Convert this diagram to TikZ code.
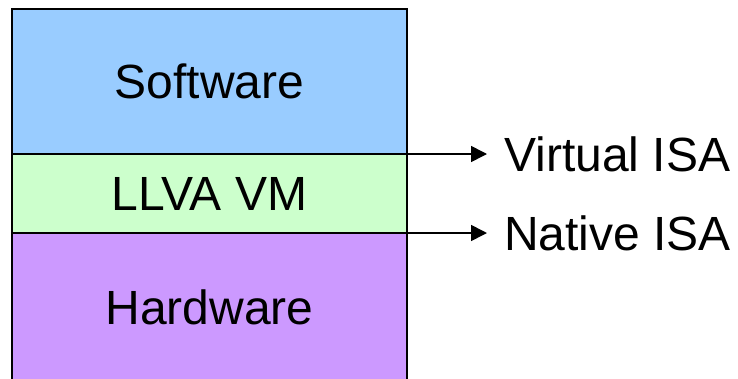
\documentclass[tikz,border=0pt]{standalone}
\usepackage{fontspec}
\setmainfont{Liberation Sans}
\usetikzlibrary{arrows.meta}
\definecolor{swblue}{HTML}{99CCFF}
\definecolor{vmgreen}{HTML}{CCFFCC}
\definecolor{hwpurple}{HTML}{CC99FF}
\begin{document}
\begin{tikzpicture}[x=1pt,y=-1pt,
  layer/.style={draw=black, line width=2.5pt, inner sep=0pt, outer sep=0pt,
    minimum width=395pt, anchor=north west,
    font=\fontsize{48}{56}\selectfont},
  isalabel/.style={anchor=west, inner xsep=17pt, inner ysep=0pt,
    font=\fontsize{48}{56}\selectfont},
  arr/.style={line width=1.6pt, -{Triangle[length=16pt,width=16pt]}}]
\useasboundingbox (0,0) rectangle (738,378);
\clip (0,0) rectangle (738,378);
\node[layer, fill=swblue, minimum height=145pt] (sw) at (12,9) {Software};
\node[layer, fill=vmgreen, minimum height=79pt] (vm) at (12,154) {LLVA VM};
\node[layer, fill=hwpurple, minimum height=148pt] (hw) at (12,233) {Hardware};
\node[isalabel] (virt) at (487,154) {Virtual ISA};
\node[isalabel] (nat) at (487,233) {Native ISA};
\draw[arr] (vm.north east) -- (virt.west);
\draw[arr] (hw.north east) -- (nat.west);
\end{tikzpicture}
\end{document}
